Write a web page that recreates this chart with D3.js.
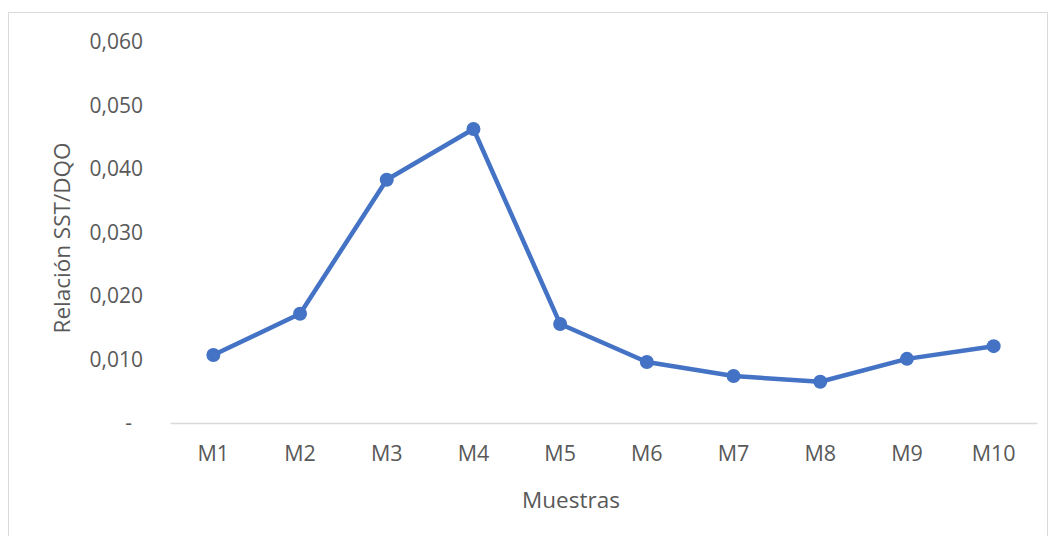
<!DOCTYPE html>
<html><head><meta charset="utf-8">
<script src="https://cdn.jsdelivr.net/npm/d3@7"></script>
<style>body{margin:0;background:#fff}svg{display:block}</style>
</head><body>
<svg id="c" width="1050" height="536"></svg>
<script>
const categories = ["M1","M2","M3","M4","M5","M6","M7","M8","M9","M10"];
const values = [0.0107,0.0172,0.0383,0.0463,0.0156,0.0096,0.0074,0.0065,0.0101,0.0121];
const yTicks = [0,0.01,0.02,0.03,0.04,0.05,0.06];
const yTitle = "Relación SST/DQO";
const xTitle = "Muestras";

const svg = d3.select("#c");
const font = "'Open Sans', sans-serif";
const grey = "#595959";
const pL = 170, pR = 1037, pT = 42, pB = 423;

svg.append("rect").attr("x",8.5).attr("y",12.5).attr("width",1039).attr("height",540)
  .attr("fill","#fff").attr("stroke","#d9d9d9").attr("stroke-width",1);

const x = d3.scaleBand().domain(categories).range([pL,pR]);
const y = d3.scaleLinear().domain([0,0.06]).range([pB,pT]);

// x axis
const xa = svg.append("g").attr("transform",`translate(0,${pB})`)
  .call(d3.axisBottom(x).tickSize(0).tickPadding(23));
xa.select(".domain").attr("stroke","#d9d9d9").attr("stroke-width",1.5);
xa.selectAll("text").attr("font-family",font).attr("font-size",21.5).attr("fill",grey);

// y axis
const ya = svg.append("g").attr("transform",`translate(${pL},0)`)
  .call(d3.axisLeft(y).tickValues(yTicks).tickSize(0).tickPadding(27)
    .tickFormat(d => d===0 ? "-" : d3.format(".3f")(d).replace(".",",")));
ya.select(".domain").remove();
ya.selectAll("text").attr("font-family",font).attr("font-size",21).attr("fill",grey);
ya.selectAll(".tick").filter(d=>d===0).select("text").attr("dx",-11);

// line
const line = d3.line().x((d,i)=>x(categories[i])+x.bandwidth()/2).y(d=>y(d));
svg.append("path").datum(values).attr("d",line).attr("fill","none")
  .attr("stroke","#4472C4").attr("stroke-width",4.5).attr("stroke-linejoin","round");
svg.selectAll("circle.pt").data(values).join("circle").attr("class","pt")
  .attr("cx",(d,i)=>x(categories[i])+x.bandwidth()/2).attr("cy",d=>y(d))
  .attr("r",7).attr("fill","#4472C4");

// titles
svg.append("text").attr("x",571).attr("y",508).attr("text-anchor","middle")
  .attr("font-family",font).attr("font-size",22.5).attr("fill",grey).text(xTitle);
svg.append("text").attr("transform","translate(70,238) rotate(-90)").attr("text-anchor","middle")
  .attr("font-family",font).attr("font-size",22.5).attr("fill",grey).text(yTitle);
</script>
</body></html>
